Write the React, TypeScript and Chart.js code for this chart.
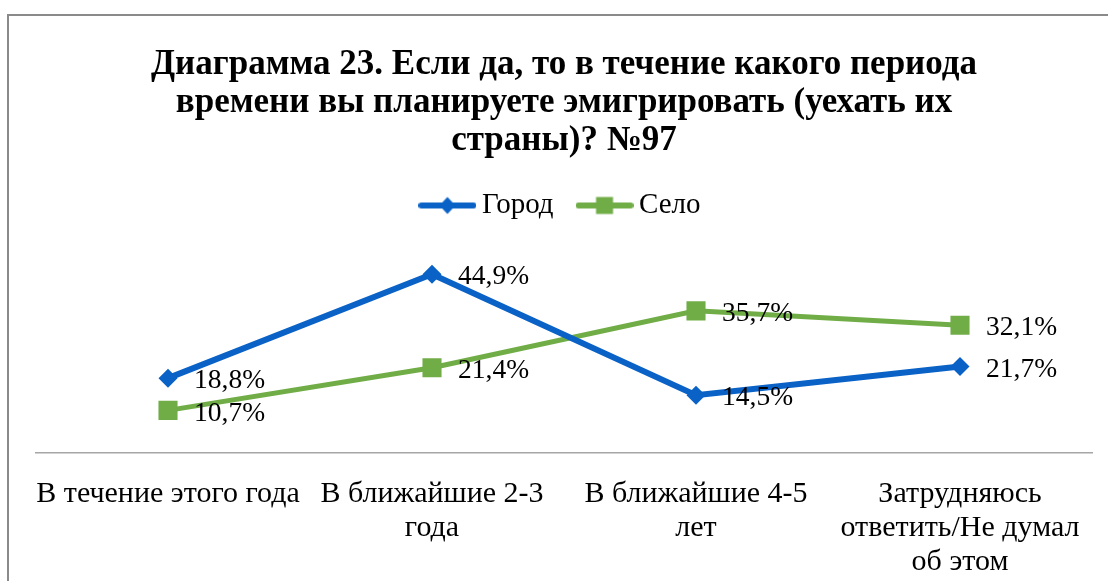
import React, { useEffect, useRef } from "react";
import { Chart, registerables } from "chart.js";

Chart.register(...registerables);

const categories: string[][] = [
  ["В течение этого года"],
  ["В ближайшие 2-3", "года"],
  ["В ближайшие 4-5", "лет"],
  ["Затрудняюсь", "ответить/Не думал", "об этом"],
];
const gorod: number[] = [18.8, 44.9, 14.5, 21.7];
const selo: number[] = [10.7, 21.4, 35.7, 32.1];
const seriesNames: string[] = ["Город", "Село"];
const titleLines: string[] = [
  "Диаграмма 23. Если да, то в течение какого периода",
  "времени вы планируете эмигрировать (уехать их",
  "страны)? №97",
];

const BLUE = "#0a62c6";
const GREEN = "#70ad47";
const FONT = "'Liberation Serif', 'Times New Roman', serif";

function legendIcon(color: string, shape: "diamond" | "square"): HTMLCanvasElement {
  const c = document.createElement("canvas");
  c.width = 58;
  c.height = 20;
  const ctx = c.getContext("2d")!;
  ctx.strokeStyle = color;
  ctx.lineWidth = 6;
  ctx.lineCap = "round";
  ctx.beginPath();
  ctx.moveTo(3, 10);
  ctx.lineTo(55, 10);
  ctx.stroke();
  ctx.fillStyle = color;
  if (shape === "diamond") {
    ctx.beginPath();
    ctx.moveTo(29, 1.5);
    ctx.lineTo(37, 10);
    ctx.lineTo(29, 18.5);
    ctx.lineTo(21, 10);
    ctx.closePath();
    ctx.fill();
  } else {
    ctx.fillRect(20.5, 1.5, 17, 17);
  }
  return c;
}

const labelPlugin = {
  id: "valueLabels",
  afterDatasetsDraw(chart: any) {
    const ctx = chart.ctx;
    ctx.save();
    ctx.font = `27.5px ${FONT}`;
    ctx.fillStyle = "#000";
    ctx.textBaseline = "middle";
    ctx.textAlign = "left";
    chart.data.datasets.forEach((ds: any, i: number) => {
      const meta = chart.getDatasetMeta(i);
      meta.data.forEach((pt: any, j: number) => {
        const v = ds.data[j];
        const txt = v.toFixed(1).replace(".", ",") + "%";
        ctx.fillText(txt, pt.x + 26, pt.y + 3);
      });
    });
    ctx.restore();
  },
};

export default function App() {
  const ref = useRef<HTMLCanvasElement>(null);
  useEffect(() => {
    if (!ref.current) return;
    const chart = new Chart(ref.current, {
      type: "line",
      data: {
        labels: categories,
        datasets: [
          {
            label: seriesNames[0],
            data: gorod,
            borderColor: BLUE,
            backgroundColor: BLUE,
            borderWidth: 6,
            pointStyle: "rectRot",
            pointRadius: 9.5,
            pointHoverRadius: 9.5,
            pointBorderWidth: 0,
            tension: 0,
          },
          {
            label: seriesNames[1],
            data: selo,
            borderColor: GREEN,
            backgroundColor: GREEN,
            borderWidth: 5,
            pointStyle: "rect",
            pointRadius: 13.5,
            pointHoverRadius: 13.5,
            pointBorderWidth: 0,
            tension: 0,
          },
        ],
      },
      options: {
        animation: false,
        responsive: false,
        layout: { padding: { left: 36, right: 16, top: 46, bottom: 2 } },
        plugins: {
          title: {
            display: true,
            text: titleLines,
            color: "#000",
            font: { family: FONT, size: 35, weight: "bold", lineHeight: 38 / 35 },
            padding: { top: 0, bottom: 0 },
          },
          legend: {
            display: true,
            labels: {
              usePointStyle: true,
              pointStyleWidth: 40,
              boxHeight: 20,
              color: "#000",
              font: { family: FONT, size: 29 },
              padding: 31,
              generateLabels: () => [
                { text: seriesNames[0], pointStyle: legendIcon(BLUE, "diamond"), fillStyle: BLUE, strokeStyle: BLUE, lineWidth: 0, hidden: false, datasetIndex: 0 },
                { text: seriesNames[1], pointStyle: legendIcon(GREEN, "square"), fillStyle: GREEN, strokeStyle: GREEN, lineWidth: 0, hidden: false, datasetIndex: 1 },
              ] as any,
            },
          },
          tooltip: { enabled: false },
        },
        scales: {
          x: {
            offset: true,
            grid: { display: false, drawTicks: false },
            border: { display: true, color: "#a6a6a6", width: 1.5 },
            ticks: {
              color: "#000",
              font: { family: FONT, size: 30, lineHeight: 34 / 30 },
              padding: 24,
              maxRotation: 0,
              autoSkip: false,
            },
          },
          y: {
            display: false,
            min: 0,
            max: 56,
          },
        },
      },
      plugins: [labelPlugin],
    });
    return () => chart.destroy();
  }, []);

  return (
    <div style={{ position: "fixed", left: 0, top: 0, width: 1108, height: 581, overflow: "hidden", background: "#fff" }}>
      <div
        style={{
          position: "absolute",
          left: 7,
          top: 14,
          width: 1120,
          height: 600,
          border: "2px solid #8a8a8a",
          boxSizing: "border-box",
        }}
      />
      <canvas ref={ref} width={1108} height={605} style={{ position: "absolute", left: 0, top: 0 }} />
    </div>
  );
}
